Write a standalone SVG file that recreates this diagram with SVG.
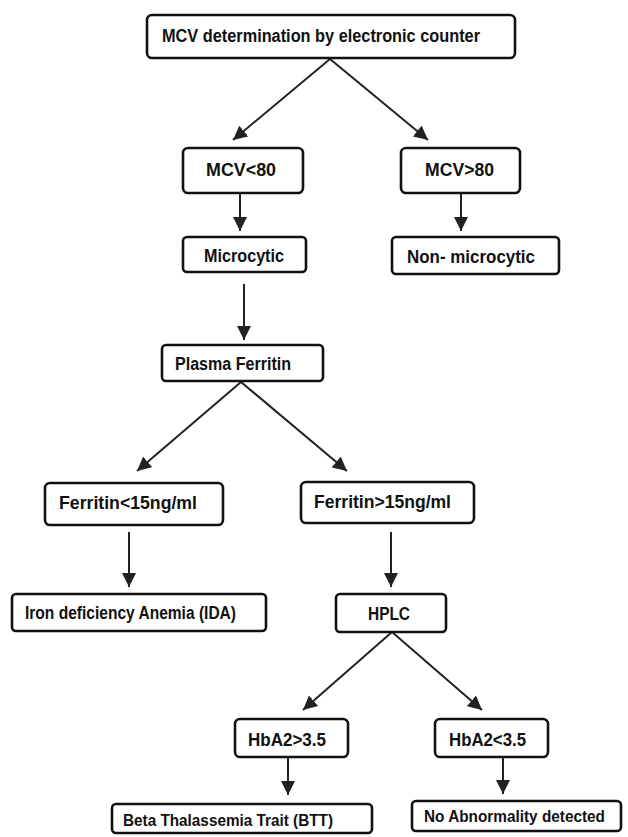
<svg xmlns="http://www.w3.org/2000/svg" width="628" height="837" viewBox="0 0 628 837">
<style>
.box{fill:#fff;stroke:#111;stroke-width:2.6}
.t{font-family:"Liberation Sans Narrow","Liberation Sans",Arial,sans-serif;font-weight:bold;font-size:17.5px;fill:#111}
.s{font-size:16.5px}
.c{stroke:#222;stroke-width:2;fill:none;marker-end:url(#ah)}
</style>
<defs>
<marker id="ah" viewBox="0 0 10 10" refX="10" refY="5" markerWidth="7" markerHeight="7" markerUnits="strokeWidth" orient="auto">
<path d="M0,0 L10,5 L0,10 z" fill="#222"/>
</marker>
</defs>
<rect width="628" height="837" fill="#fff"/>
<g id="connectors">
<line class="c" x1="330" y1="59" x2="233" y2="140"/>
<line class="c" x1="330" y1="59" x2="428" y2="140"/>
<line class="c" x1="240" y1="194" x2="240" y2="231"/>
<line class="c" x1="461" y1="194" x2="461" y2="231"/>
<line class="c" x1="244" y1="284" x2="244" y2="340"/>
<line class="c" x1="241" y1="382" x2="137" y2="471"/>
<line class="c" x1="241" y1="382" x2="347" y2="471"/>
<line class="c" x1="129" y1="532" x2="129" y2="587"/>
<line class="c" x1="391" y1="532" x2="391" y2="587"/>
<line class="c" x1="392" y1="632" x2="303" y2="710"/>
<line class="c" x1="392" y1="632" x2="482" y2="710"/>
<line class="c" x1="288" y1="757" x2="288" y2="795"/>
<line class="c" x1="503" y1="757" x2="503" y2="794"/>
</g>
<g id="mcv">
<rect class="box" x="147" y="15" width="368" height="43" rx="5"/>
<text class="t" x="162" y="42" textLength="318" lengthAdjust="spacingAndGlyphs">MCV determination by electronic counter</text>
</g>
<g id="mcvlt80">
<rect class="box" x="183" y="148" width="120" height="45" rx="5"/>
<text class="t" x="206" y="176" textLength="70" lengthAdjust="spacingAndGlyphs">MCV&lt;80</text>
</g>
<g id="mcvgt80">
<rect class="box" x="401" y="148" width="119" height="45" rx="5"/>
<text class="t" x="425" y="176" textLength="69" lengthAdjust="spacingAndGlyphs">MCV&gt;80</text>
</g>
<g id="microcytic">
<rect class="box" x="183" y="237" width="123" height="35" rx="4"/>
<text class="t" x="204" y="262" textLength="80" lengthAdjust="spacingAndGlyphs">Microcytic</text>
</g>
<g id="nonmicrocytic">
<rect class="box" x="392" y="237" width="167" height="37" rx="4"/>
<text class="t" x="407" y="263" textLength="128" lengthAdjust="spacingAndGlyphs">Non- microcytic</text>
</g>
<g id="ferritin">
<rect class="box" x="162" y="345" width="161" height="36" rx="4"/>
<text class="t" x="175" y="370" textLength="116" lengthAdjust="spacingAndGlyphs">Plasma Ferritin</text>
</g>
<g id="ferlt15">
<rect class="box" x="45" y="483" width="178" height="42" rx="5"/>
<text class="t" x="59" y="509" textLength="138" lengthAdjust="spacingAndGlyphs">Ferritin&lt;15ng/ml</text>
</g>
<g id="fergt15">
<rect class="box" x="301" y="482" width="173" height="41" rx="5"/>
<text class="t" x="314" y="508" textLength="137" lengthAdjust="spacingAndGlyphs">Ferritin&gt;15ng/ml</text>
</g>
<g id="ida">
<rect class="box" x="12" y="594" width="254" height="37" rx="4"/>
<text class="t" x="25" y="619" textLength="211" lengthAdjust="spacingAndGlyphs">Iron deficiency Anemia (IDA)</text>
</g>
<g id="hplc">
<rect class="box" x="336" y="594" width="110" height="38" rx="4"/>
<text class="t" x="368" y="620" textLength="42" lengthAdjust="spacingAndGlyphs">HPLC</text>
</g>
<g id="hba2gt">
<rect class="box" x="235" y="719" width="113" height="38" rx="5"/>
<text class="t" x="248" y="746" textLength="78" lengthAdjust="spacingAndGlyphs">HbA2&gt;3.5</text>
</g>
<g id="hba2lt">
<rect class="box" x="435" y="719" width="113" height="38" rx="5"/>
<text class="t" x="449" y="746" textLength="77" lengthAdjust="spacingAndGlyphs">HbA2&lt;3.5</text>
</g>
<g id="btt">
<rect class="box" x="112" y="804" width="260" height="29" rx="4"/>
<text class="t s" x="123" y="826" textLength="210" lengthAdjust="spacingAndGlyphs">Beta Thalassemia Trait (BTT)</text>
</g>
<g id="noabn">
<rect class="box" x="412" y="801" width="209" height="30" rx="4"/>
<text class="t s" x="424" y="822" textLength="181" lengthAdjust="spacingAndGlyphs">No Abnormality detected</text>
</g>
</svg>
